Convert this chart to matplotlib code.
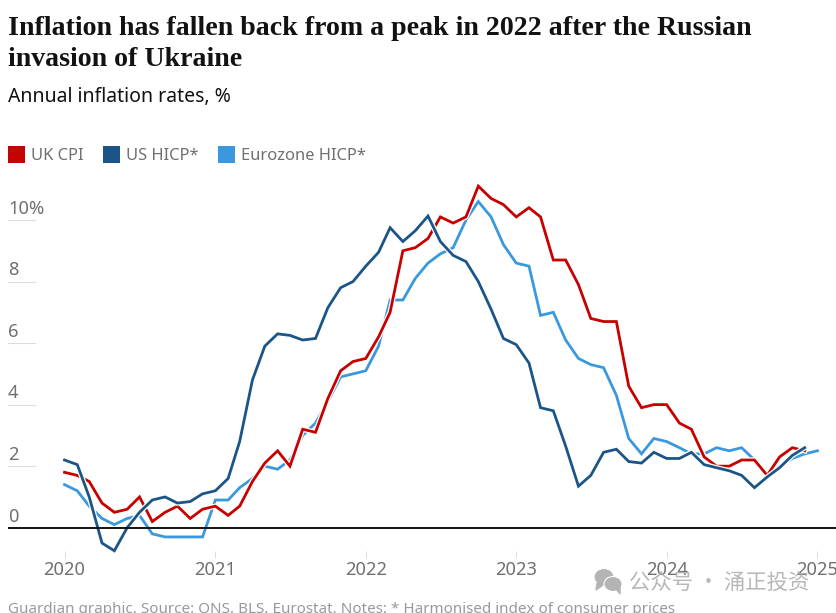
import pandas as pd
import matplotlib
matplotlib.use("Agg")
import matplotlib.pyplot as plt
import matplotlib.dates as mdates
import matplotlib.patheffects as pe
from matplotlib.patches import Rectangle, Ellipse, Polygon

W, H = 837, 613
plt.rcParams['font.family'] = ['Noto Sans', 'DejaVu Sans']

uk_cpi = [1.8, 1.7, 1.5, 0.8, 0.5, 0.6, 1.0, 0.2, 0.5, 0.7, 0.3, 0.6,
          0.7, 0.4, 0.7, 1.5, 2.1, 2.5, 2.0, 3.2, 3.1, 4.2, 5.1, 5.4,
          5.5, 6.2, 7.0, 9.0, 9.1, 9.4, 10.1, 9.9, 10.1, 11.1, 10.7, 10.5,
          10.1, 10.4, 10.1, 8.7, 8.7, 7.9, 6.8, 6.7, 6.7, 4.6, 3.9, 4.0,
          4.0, 3.4, 3.2, 2.3, 2.0, 2.0, 2.2, 2.2, 1.7, 2.3, 2.6, 2.5]
us_hicp = [2.2, 2.05, 1.0, -0.5, -0.75, 0.0, 0.5, 0.9, 1.0, 0.8, 0.85, 1.1,
           1.2, 1.6, 2.8, 4.8, 5.9, 6.3, 6.25, 6.1, 6.15, 7.15, 7.8, 8.0,
           8.5, 8.95, 9.75, 9.3, 9.65, 10.13, 9.3, 8.85, 8.65, 8.0, 7.1, 6.15,
           5.95, 5.35, 3.9, 3.8, 2.65, 1.35, 1.7, 2.45, 2.55, 2.15, 2.1, 2.45,
           2.25, 2.25, 2.45, 2.05, 1.95, 1.85, 1.7, 1.3, 1.65, 1.95, 2.35, 2.6]
eurozone_hicp = [1.4, 1.2, 0.7, 0.3, 0.1, 0.3, 0.4, -0.2, -0.3, -0.3, -0.3, -0.3,
                 0.9, 0.9, 1.3, 1.6, 2.0, 1.9, 2.2, 3.0, 3.4, 4.1, 4.9, 5.0,
                 5.1, 5.9, 7.4, 7.4, 8.1, 8.6, 8.9, 9.1, 10.0, 10.6, 10.1, 9.2,
                 8.6, 8.5, 6.9, 7.0, 6.1, 5.5, 5.3, 5.2, 4.3, 2.9, 2.4, 2.9,
                 2.8, 2.6, 2.4, 2.4, 2.6, 2.5, 2.6, 2.2, 1.7, 2.0, 2.25, 2.4, 2.5]
years = [2020, 2021, 2022, 2023, 2024, 2025]
y_ticks = [0, 2, 4, 6, 8, 10]
y_labels = ['0', '2', '4', '6', '8', '10%']

RED = '#c70000'
NAVY = '#1b5587'
SKY = '#3a98de'
GREY = '#707070'

months = pd.date_range('2020-01-01', periods=61, freq='MS')

fig = plt.figure(figsize=(W / 100, H / 100), dpi=100)


def fx(px):
    return px / W


def fy(py):
    return 1 - py / H


# axes run from the left margin to the edge, bottom sits where x ticks start
ax = fig.add_axes([fx(8), fy(551), fx(W - 8), fy(180) - fy(551)])
ax.patch.set_alpha(0)
px_per_unit = 30.77
ax.set_ylim((527.7 - 551) / px_per_unit, (527.7 - 180) / px_per_unit)
px_per_day = (817.5 - 64.5) / 1827
x0 = mdates.date2num(pd.Timestamp('2020-01-01'))
ax.set_xlim(x0 - (64.5 - 8) / px_per_day, x0 + (837 - 64.5) / px_per_day)
for s in ax.spines.values():
    s.set_visible(False)

halo = [pe.withStroke(linewidth=3.8, foreground='white')]
ax.plot(months[:61], eurozone_hicp, color=SKY, lw=2.0, clip_on=False, path_effects=halo,
        solid_joinstyle='miter', zorder=3)
ax.plot(months[:60], uk_cpi, color=RED, lw=2.0, clip_on=False, path_effects=halo,
        solid_joinstyle='miter', zorder=4)
ax.plot(months[:60], us_hicp, color=NAVY, lw=2.0, clip_on=False, path_effects=halo,
        solid_joinstyle='miter', zorder=5)

ax.axhline(0, color='#121212', lw=1.4, zorder=6)

ax.set_xticks([mdates.date2num(pd.Timestamp(f'{y}-01-01')) for y in years])
ax.set_xticklabels(years, clip_on=False)
ax.tick_params(axis='x', length=5, width=0.7, color='#dcdcdc', labelcolor=GREY,
               labelsize=13.2, pad=2.5)
ax.set_yticks([])

for v, lab in zip(y_ticks, y_labels):
    if v != 0:
        ax.plot([0, 27 / (W - 8)], [v, v], color='#dcdcdc', lw=0.8,
                transform=ax.get_yaxis_transform(), zorder=1)
    ax.text(0, v + 0.07, lab, color=GREY, fontsize=13.2, ha='left', va='bottom',
            transform=ax.get_yaxis_transform(), zorder=7)

# headline block
fig.text(fx(8), fy(35), 'Inflation has fallen back from a peak in 2022 after the Russian',
         family=['Liberation Serif'], weight='bold', fontsize=20.1, color='#121212', va='baseline')
fig.text(fx(8), fy(66), 'invasion of Ukraine',
         family=['Liberation Serif'], weight='bold', fontsize=20.1, color='#121212', va='baseline')
fig.text(fx(8), fy(102), 'Annual inflation rates, %', fontsize=14, color='#121212', va='baseline')

# legend
for x_sq, x_txt, col, lab in [(8, 31, RED, 'UK CPI'), (103, 126, NAVY, 'US HICP*'),
                              (218, 241, SKY, 'Eurozone HICP*')]:
    fig.add_artist(Rectangle((fx(x_sq), fy(163)), 17.5 / W, 17 / H, color=col,
                             transform=fig.transFigure, lw=0))
    fig.text(fx(x_txt), fy(160), lab, fontsize=11.9, color=GREY, va='baseline')

fig.text(fx(8), fy(613), 'Guardian graphic. Source: ONS, BLS, Eurostat. Notes: * Harmonised index of consumer prices',
         fontsize=10.95, color='#999999', va='baseline')

# watermark on top of the chart
wm = '#b4b4b4'
fig.text(fx(629), fy(589), '公众号 · 涌正投资', family=['Noto Sans CJK SC', 'DejaVu Sans'],
         fontsize=15.4, color=wm, va='baseline', alpha=0.95, zorder=20)
for cx, cy, w_, h_, fc in [(604, 577, 20, 17, wm), (613, 584, 18, 15, wm)]:
    fig.add_artist(Ellipse((fx(cx), fy(cy)), w_ / W, h_ / H, facecolor=fc, edgecolor='white',
                           lw=0.8, transform=fig.transFigure, zorder=20))
fig.add_artist(Polygon([(fx(597), fy(583)), (fx(596), fy(590)), (fx(603), fy(585))], color=wm,
                       transform=fig.transFigure, zorder=20))
fig.add_artist(Polygon([(fx(616), fy(589)), (fx(620), fy(594)), (fx(620), fy(587))], color=wm,
                       transform=fig.transFigure, zorder=20))

fig.savefig('out.png', dpi=100)
